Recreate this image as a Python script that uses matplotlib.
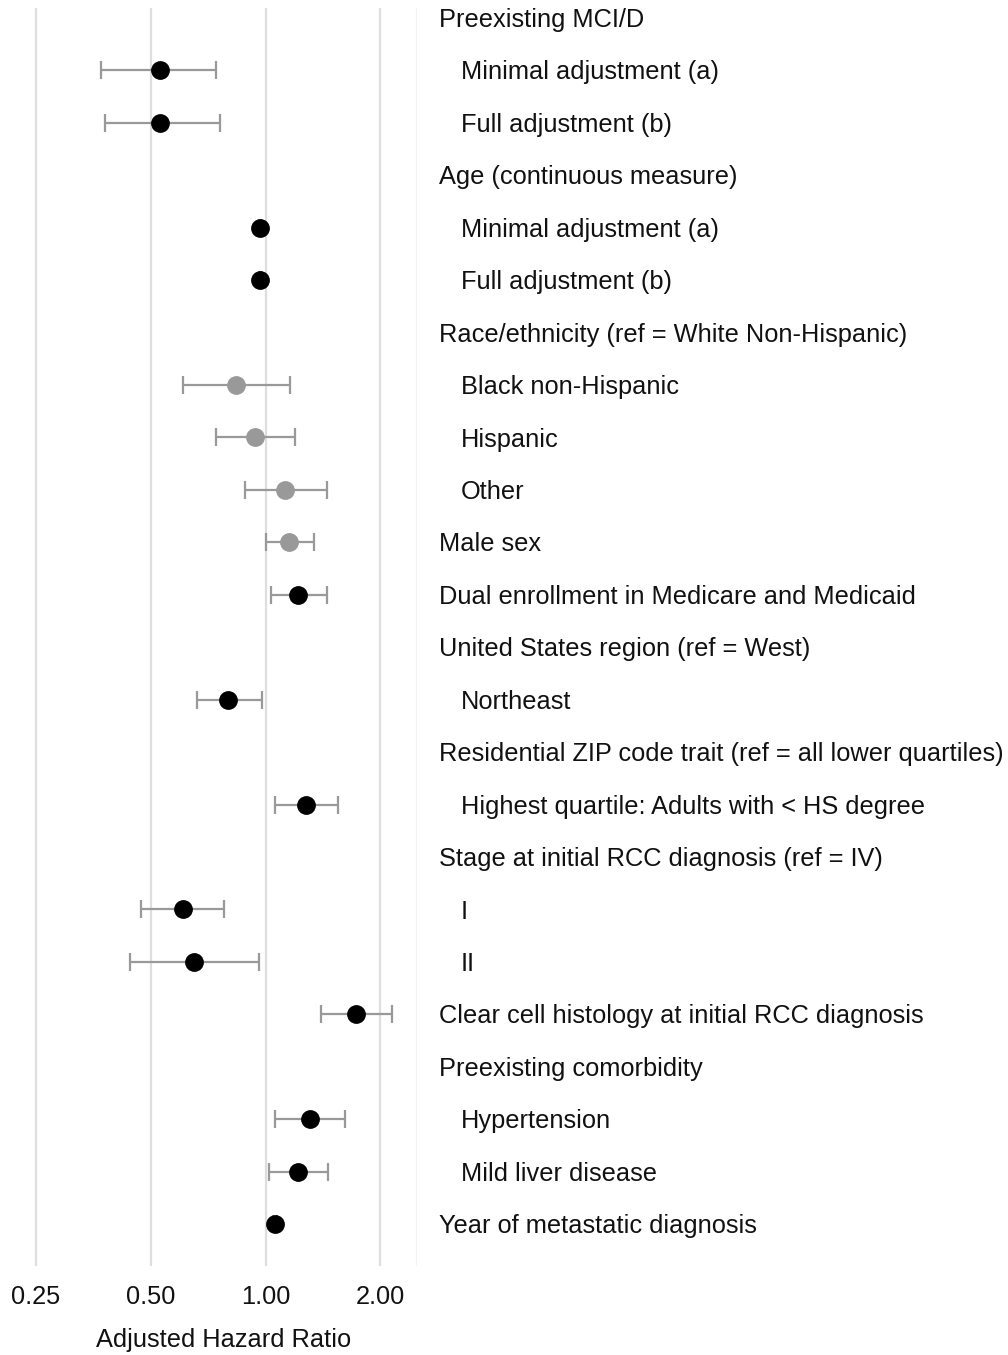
import numpy as np
import matplotlib.pyplot as plt
from matplotlib.transforms import blended_transform_factory

plt.rcParams['font.family'] = ['Liberation Sans', 'DejaVu Sans']

labels = [
    "Preexisting MCI/D",
    "Minimal adjustment (a)",
    "Full adjustment (b)",
    "Age (continuous measure)",
    "Minimal adjustment (a)",
    "Full adjustment (b)",
    "Race/ethnicity (ref = White Non-Hispanic)",
    "Black non-Hispanic",
    "Hispanic",
    "Other",
    "Male sex",
    "Dual enrollment in Medicare and Medicaid",
    "United States region (ref = West)",
    "Northeast",
    "Residential ZIP code trait (ref = all lower quartiles)",
    "Highest quartile: Adults with < HS degree",
    "Stage at initial RCC diagnosis (ref = IV)",
    "I",
    "II",
    "Clear cell histology at initial RCC diagnosis",
    "Preexisting comorbidity",
    "Hypertension",
    "Mild liver disease",
    "Year of metastatic diagnosis",
]
indented = [0, 1, 1, 0, 1, 1, 0, 1, 1, 1, 0, 0, 0, 1, 0, 1, 0, 1, 1, 0, 0, 1, 1, 0]

# hazard ratio and 95% CI; nan = heading row without an estimate
hr = [np.nan, 0.53, 0.53, np.nan, 0.967, 0.967, np.nan, 0.837, 0.939, 1.127, 1.154, 1.217,
      np.nan, 0.799, np.nan, 1.277, np.nan, 0.609, 0.649, 1.724, np.nan, 1.308, 1.219, 1.059]
ci_low = [np.nan, 0.369, 0.380, np.nan, 0.960, 0.960, np.nan, 0.609, 0.741, 0.882, 1.00, 1.032,
          np.nan, 0.659, np.nan, 1.061, np.nan, 0.47, 0.44, 1.40, np.nan, 1.059, 1.023, 1.048]
ci_high = [np.nan, 0.740, 0.760, np.nan, 0.975, 0.975, np.nan, 1.162, 1.193, 1.45, 1.34, 1.45,
           np.nan, 0.979, np.nan, 1.546, np.nan, 0.78, 0.961, 2.14, np.nan, 1.616, 1.461, 1.07]
# 1 = significant (black), 0 = not significant (gray)
significant = [0, 1, 1, 0, 1, 1, 0, 0, 0, 0, 0, 1, 0, 1, 0, 1, 0, 1, 1, 1, 0, 1, 1, 1]

ticks = [0.25, 0.5, 1.0, 2.0]
tick_labels = ["0.25", "0.50", "1.00", "2.00"]

W, H = 1008, 1355
FS = 18.3
fig = plt.figure(figsize=(W / 100, H / 100), dpi=100)
ax = fig.add_axes([30 / W, 1 - 1266 / H, (417 - 30) / W, (1266 - 8) / H])

ax.set_xscale('log', base=2)
ax.set_xlim(0.241, 2.496)
ax.set_ylim(23.8, -0.19)

for t in ticks:
    ax.axvline(t, color='#dedede', lw=1.6, zorder=0)
ax.axvline(2.496, color='#f2f2f2', lw=1.6, zorder=0)

y = np.arange(len(labels))
hr_a = np.array(hr)
lo_a = np.array(ci_low)
hi_a = np.array(ci_high)
sig = np.array(significant, dtype=bool)

ax.errorbar(hr_a, y, xerr=[hr_a - lo_a, hi_a - hr_a], fmt='none',
            ecolor='#999999', elinewidth=1.6, capsize=6.5, capthick=1.6, zorder=2)
ax.plot(hr_a[sig], y[sig], 'o', color='black', ms=12.5, zorder=3)
ax.plot(hr_a[~sig], y[~sig], 'o', color='#999999', ms=12.5, zorder=3)

ax.set_xticks(ticks)
ax.set_xticklabels(tick_labels)
ax.xaxis.set_minor_locator(plt.NullLocator())
ax.set_yticks([])
ax.tick_params(axis='x', length=0, pad=14, labelsize=FS, colors='#111111')
for s in ax.spines.values():
    s.set_visible(False)
ax.set_xlabel("Adjusted Hazard Ratio", fontsize=FS, labelpad=13, color='#111111')

# row labels sit in the right-hand margin, headings flush and sub-items indented
trans = blended_transform_factory(fig.transFigure, ax.transData)
for i, (lab, ind) in enumerate(zip(labels, indented)):
    x0 = (461 if ind else 439) / W
    ax.text(x0, i + 0.04, lab, transform=trans, fontsize=FS, va='center', ha='left',
            color='#111111', clip_on=False)

fig.savefig('out.png', dpi=100)
